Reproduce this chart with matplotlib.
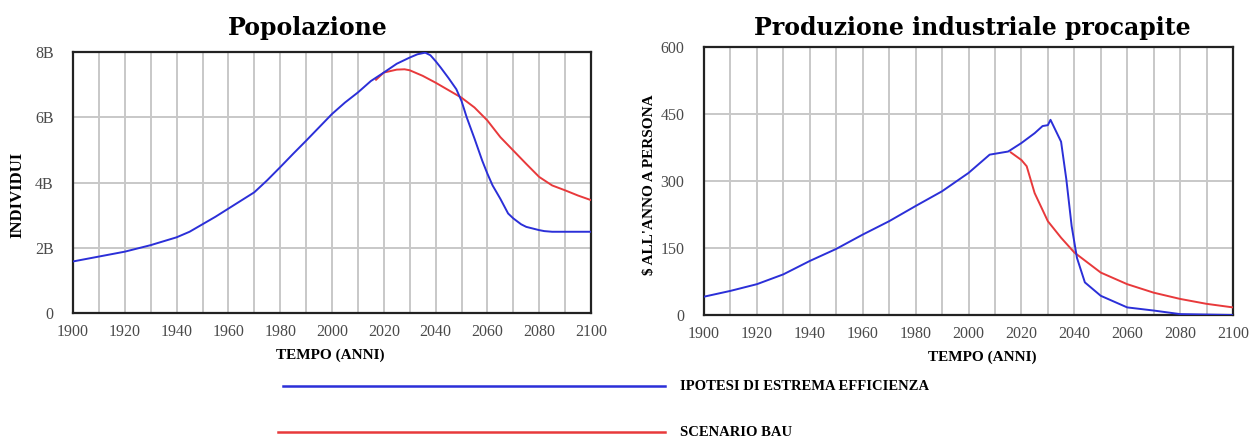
import matplotlib.pyplot as plt
import numpy as np

# Popolazione (miliardi di individui)
anni_pop_eff = [1900, 1910, 1920, 1930, 1940, 1945, 1950, 1955, 1960, 1965, 1970,
                1975, 1980, 1985, 1990, 1995, 2000, 2005, 2010, 2015, 2020, 2025,
                2030, 2033, 2036, 2038, 2040, 2042, 2045, 2048, 2050, 2052, 2055,
                2058, 2060, 2062, 2065, 2068, 2070, 2073, 2075, 2080, 2082, 2085, 2100]
pop_eff = [1.58, 1.73, 1.88, 2.08, 2.32, 2.49, 2.72, 2.95, 3.2, 3.45, 3.7,
           4.07, 4.47, 4.88, 5.28, 5.69, 6.1, 6.45, 6.76, 7.11, 7.37, 7.64,
           7.83, 7.93, 7.98, 7.9, 7.72, 7.52, 7.2, 6.86, 6.5, 6.0, 5.35,
           4.67, 4.27, 3.91, 3.5, 3.05, 2.9, 2.72, 2.64, 2.54, 2.51, 2.49, 2.49]
anni_pop_bau = [2017, 2020, 2025, 2028, 2030, 2035, 2040, 2045, 2050, 2055, 2060,
                2065, 2070, 2075, 2080, 2085, 2090, 2095, 2100]
pop_bau = [7.15, 7.37, 7.46, 7.47, 7.44, 7.27, 7.06, 6.83, 6.6, 6.3, 5.9,
           5.39, 4.98, 4.57, 4.17, 3.91, 3.76, 3.6, 3.46]

# Produzione industriale procapite ($ all'anno a persona)
anni_ind_eff = [1900, 1910, 1920, 1930, 1940, 1950, 1960, 1970, 1980, 1990, 2000,
                2008, 2010, 2015, 2020, 2025, 2028, 2030, 2031, 2035, 2037, 2039,
                2041, 2044, 2050, 2060, 2070, 2080, 2090, 2100]
ind_eff = [41, 54, 69, 91, 121, 148, 180, 210, 244, 277, 318,
           359, 361, 366, 385, 407, 423, 425, 437, 388, 303, 199,
           128, 73, 43, 17, 10, 2, 1, 0]
anni_ind_bau = [2016, 2020, 2022, 2025, 2030, 2035, 2040, 2050, 2060, 2070, 2080, 2090, 2100]
ind_bau = [364, 347, 333, 273, 210, 173, 140, 95, 69, 50, 36, 25, 17]

blu = '#2b2fd8'
rosso = '#e8393b'
serif = 'Liberation Serif'
W, H = 1251, 436

fig = plt.figure(figsize=(12.51, 4.36), dpi=100)
ax1 = fig.add_axes([73/W, 1-313/H, 518/W, 261/H])
ax2 = fig.add_axes([704/W, 1-315/H, 529/W, 268/H])


def stile(ax, yticks, ylabels):
    ax.set_xlim(1900, 2100)
    ax.set_ylim(0, yticks[-1])
    ax.set_xticks(np.arange(1900, 2101, 10), minor=True)
    ax.set_xticks(np.arange(1900, 2101, 20))
    ax.set_xticklabels([str(a) for a in range(1900, 2101, 20)],
                       family=serif, fontsize=11.5, color='#4a4a4a')
    ax.set_yticks(yticks)
    ax.set_yticklabels(ylabels, family=serif, fontsize=11.5, color='#4a4a4a')
    ax.grid(True, which='both', color='#c8c8c8', linewidth=1.4)
    ax.set_axisbelow(True)
    ax.tick_params(which='both', length=0)
    ax.tick_params(axis='x', pad=8)
    ax.tick_params(axis='y', pad=14)
    for s in ax.spines.values():
        s.set_linewidth(1.6)
        s.set_color('#222222')


ax1.plot(anni_pop_eff, pop_eff, color=blu, lw=1.4, zorder=4)
ax1.plot(anni_pop_bau, pop_bau, color=rosso, lw=1.4, zorder=3)
stile(ax1, [0, 2, 4, 6, 8], ['0', '2B', '4B', '6B', '8B'])

ax2.plot(anni_ind_eff, ind_eff, color=blu, lw=1.4, zorder=4)
ax2.plot(anni_ind_bau, ind_bau, color=rosso, lw=1.4, zorder=3)
stile(ax2, [0, 150, 300, 450, 600], ['0', '150', '300', '450', '600'])

# titoli ed etichette degli assi
fig.text(308/W, 1-35/H, 'Popolazione', family='DejaVu Serif', fontweight='bold',
         fontsize=17, ha='center', va='baseline')
fig.text(972/W, 1-35/H, 'Produzione industriale procapite', family='DejaVu Serif',
         fontweight='bold', fontsize=17, ha='center', va='baseline')
fig.text(330/W, 1-355/H, 'TEMPO (ANNI)', family=serif, fontweight='bold',
         fontsize=11, ha='center', va='center')
fig.text(982/W, 1-357/H, 'TEMPO (ANNI)', family=serif, fontweight='bold',
         fontsize=11, ha='center', va='center')
fig.text(17/W, 1-195/H, 'INDIVIDUI', family=serif, fontweight='bold',
         fontsize=12, ha='center', va='center', rotation=90)
fig.text(650/W, 1-185/H, "$ ALL'ANNO A PERSONA", family=serif, fontweight='bold',
         fontsize=11, ha='center', va='center', rotation=90)

# legenda in basso
fig.add_artist(plt.Line2D([283/W, 665/W], [1-386/H, 1-386/H], color=blu, lw=1.8))
fig.add_artist(plt.Line2D([278/W, 665/W], [1-432/H, 1-432/H], color=rosso, lw=1.8))
fig.text(680/W, 1-386/H, 'IPOTESI DI ESTREMA EFFICIENZA', family=serif,
         fontweight='bold', fontsize=10.5, va='center')
fig.text(680/W, 1-432/H, 'SCENARIO BAU', family=serif,
         fontweight='bold', fontsize=10.5, va='center')

fig.savefig('out.png', dpi=100)
